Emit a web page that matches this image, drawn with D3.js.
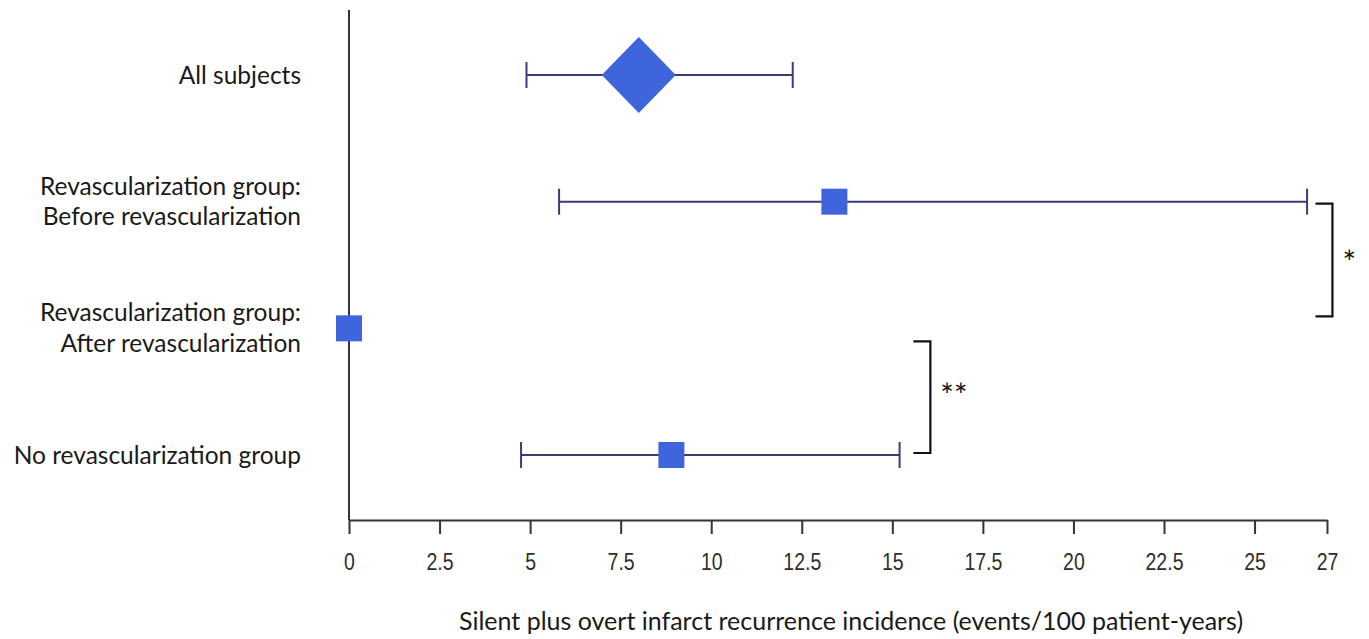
<!DOCTYPE html>
<html>
<head>
<meta charset="utf-8">
<script src="https://cdn.jsdelivr.net/npm/d3@7"></script>
<style>
  html, body { margin: 0; padding: 0; background: #fff; }
  #vizHolder { width: 1369px; height: 639px; }
</style>
</head>
<body>
<div id="vizHolder"></div>
<script>
var vizHolder = document.querySelector('#vizHolder'),
    width = 1369,
    height = 639;

// Data
var groups = ['all', 'before', 'after', 'norevasc'];
var groupLabels = [
  ['All subjects'],
  ['Revascularization group:', 'Before revascularization'],
  ['Revascularization group:', 'After revascularization'],
  ['No revascularization group']
];
var estimates = [8.0, 13.4, 0, 8.9];
var lowerCI = [4.9, 5.8, null, 4.75];
var upperCI = [12.25, 26.45, null, 15.2];
var markerShape = ['diamond', 'square', 'square', 'square'];
var tickValues = [0, 2.5, 5, 7.5, 10, 12.5, 15, 17.5, 20, 22.5, 25, 27];
var brackets = [
  { from: 'before', to: 'after', x: 27.15, label: '*' },
  { from: 'after', to: 'norevasc', x: 16.05, label: '**' }
];
var xTitle = 'Silent plus overt infarct recurrence incidence (events/100 patient-years)';

var rows = groups.map(function(g, i) {
  return { key: g, label: groupLabels[i], est: estimates[i], lo: lowerCI[i], hi: upperCI[i], shape: markerShape[i] };
});

var xScale = d3.scaleLinear()
  .domain([0, 27])
  .range([349, 1327]);

var yScale = d3.scalePoint()
  .domain(groups)
  .range([75, 455]);

var svg = d3.select(vizHolder)
  .append('svg')
  .attr('width', width)
  .attr('height', height);

//Axes
var axisY = 520;
var xAxis = svg.append('g')
  .attr('transform', 'translate(0,' + axisY + ')')
  .call(d3.axisBottom(xScale).tickValues(tickValues).tickSize(14).tickSizeOuter(0).tickPadding(19)
    .tickFormat(function(d) { return String(d); }));

xAxis.select('.domain').attr('stroke', '#333').attr('stroke-width', 2);
xAxis.selectAll('.tick line').attr('stroke', '#333').attr('stroke-width', 2);
xAxis.selectAll('.tick text')
  .attr('fill', '#2e2e2e')
  .attr('transform', 'scale(0.83,1)')
  .style('font-family', '"Liberation Sans", Arial, sans-serif')
  .style('font-size', '23.5px');

svg.append('line')
  .attr('x1', xScale(0)).attr('x2', xScale(0))
  .attr('y1', 10).attr('y2', axisY)
  .attr('stroke', '#333').attr('stroke-width', 2);

svg.append('text')
  .attr('x', 851).attr('y', 630)
  .attr('text-anchor', 'middle')
  .style('font-family', 'Lato, "Open Sans", sans-serif')
  .style('font-size', '25px')
  .attr('fill', '#1a1a1a')
  .text(xTitle);

//Row labels
var labels = svg.selectAll('.rowlabel')
  .data(rows)
  .enter()
  .append('text')
  .attr('class', 'rowlabel')
  .attr('text-anchor', 'end')
  .attr('x', 301)
  .attr('y', function(d) { return yScale(d.key); })
  .style('font-family', 'Lato, "Open Sans", sans-serif')
  .style('font-size', '24.5px')
  .attr('fill', '#1a1a1a');

labels.selectAll('tspan')
  .data(function(d) { return d.label.map(function(t, i) { return { t: t, i: i, n: d.label.length }; }); })
  .enter()
  .append('tspan')
  .attr('x', 301)
  .attr('dy', function(d) { return d.i === 0 ? (d.n === 1 ? '0.35em' : (-0.28) + 'em') : '1.24em'; })
  .text(function(d) { return d.t; });

//Error bars
var ci = rows.filter(function(d) { return d.lo !== null; });
var barColor = '#3b3b78';
svg.selectAll('.ci')
  .data(ci)
  .enter()
  .append('line')
  .attr('x1', function(d) { return xScale(d.lo); })
  .attr('x2', function(d) { return xScale(d.hi); })
  .attr('y1', function(d) { return yScale(d.key); })
  .attr('y2', function(d) { return yScale(d.key); })
  .attr('stroke', barColor).attr('stroke-width', 2);

ci.forEach(function(d) {
  [d.lo, d.hi].forEach(function(v) {
    svg.append('line')
      .attr('x1', xScale(v)).attr('x2', xScale(v))
      .attr('y1', yScale(d.key) - 13).attr('y2', yScale(d.key) + 13)
      .attr('stroke', barColor).attr('stroke-width', 2);
  });
});

//Markers
var markerColor = '#3f65dd';
svg.selectAll('.marker')
  .data(rows)
  .enter()
  .append('path')
  .attr('transform', function(d) { return 'translate(' + xScale(d.est) + ',' + yScale(d.key) + ')'; })
  .attr('d', function(d) {
    if (d.shape === 'diamond') return 'M0,-38L37,0L0,38L-37,0Z';
    return 'M-13,-13H13V13H-13Z';
  })
  .attr('fill', markerColor);

//Significance brackets
brackets.forEach(function(b) {
  var x = xScale(b.x);
  var y1 = yScale(b.from) + 2, y2 = yScale(b.to) - 12, off = 14;
  if (b.label === '**') { y1 = yScale(b.from) + 13; y2 = yScale(b.to) - 2; off = 10; }
  svg.append('path')
    .attr('d', 'M' + (x - 17) + ',' + y1 + 'H' + x + 'V' + y2 + 'H' + (x - 17))
    .attr('fill', 'none').attr('stroke', '#111').attr('stroke-width', 2.2);
  svg.append('text')
    .attr('x', x + 10).attr('y', (y1 + y2) / 2 + off)
    .attr('text-anchor', 'start')
    .style('font-family', 'Lato, "Open Sans", sans-serif')
    .style('font-size', '32px')
    .attr('fill', '#111')
    .text(b.label);
});
</script>
</body>
</html>
